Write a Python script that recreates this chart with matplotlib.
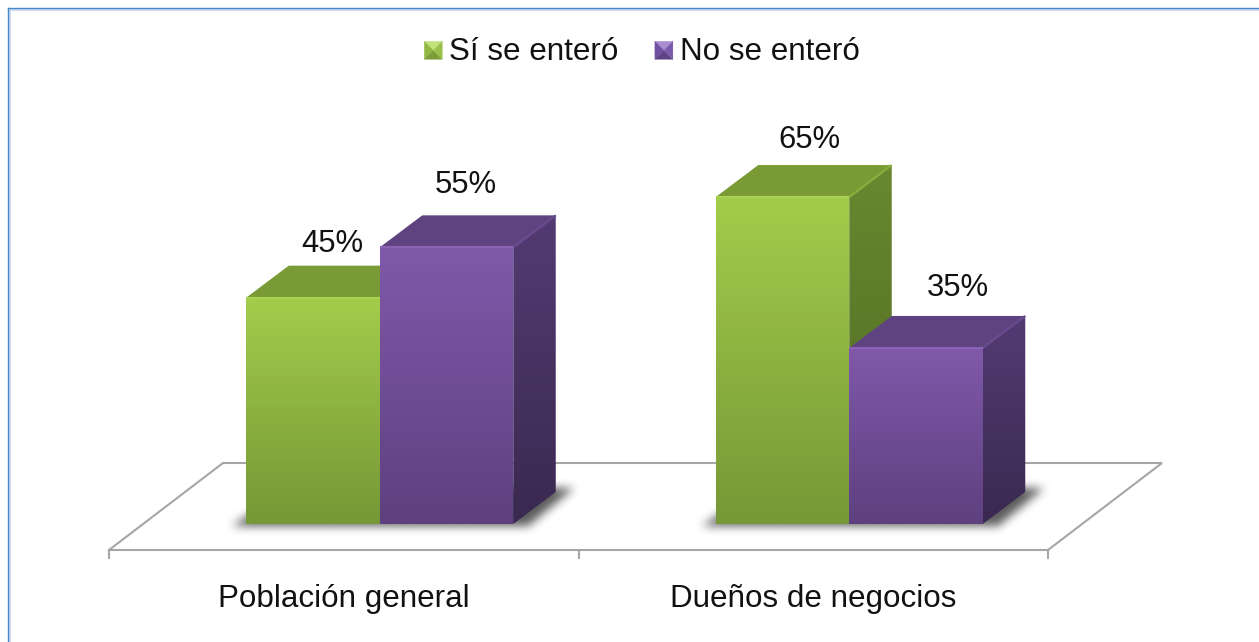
import numpy as np
import matplotlib
matplotlib.use("Agg")
import matplotlib.pyplot as plt
from matplotlib.patches import Polygon, Patch
from matplotlib.path import Path
from matplotlib.legend_handler import HandlerBase
from matplotlib.lines import Line2D
from matplotlib.colors import to_rgb

categories = ["Población general", "Dueños de negocios"]
series_names = ["Sí se enteró", "No se enteró"]
si_values = [45, 65]
no_values = [55, 35]

W, H = 1259, 642
plt.rcParams["font.family"] = ["Liberation Sans", "DejaVu Sans"]
FS = 22.6

# scales: pixels per unit, used only to configure the axes
PX_X = 469.5
PX_Y = 5.03
X0_PX = 109 + PX_X / 2       # category 0 centre
Y0_PX = 524                  # value 0

fig = plt.figure(figsize=(W / 100, H / 100), dpi=100, facecolor="white")
ax = fig.add_axes([0, 0, 1, 1])
ax.set_xlim(-X0_PX / PX_X, (W - X0_PX) / PX_X)
ax.set_ylim(-(H - Y0_PX) / PX_Y, Y0_PX / PX_Y)
ax.patch.set_visible(False)

BAR_W = 133.5 / PX_X
BAR_SHIFT = 36 / PX_X
DX = 42.5 / PX_X
DY = 32 / PX_Y

STYLE = {
    0: dict(front=("#A3CC4B", "#769836"), side=("#69882F", "#4E6923"), top="#7A9A35",
            edge="#88AE3C", rim="#AAD354", pyr=("#C3E27B", "#92B843", "#7B9D36", "#9AC04A")),
    1: dict(front=("#8059AA", "#5E407F"), side=("#533B73", "#3A2950"), top="#5F4380",
            edge="#6A4B90", rim="#8A63B4", pyr=("#A88DD2", "#7050A0", "#5E4387", "#7A5AAC")),
}


def grad_poly(pts, c_top, c_bot, z):
    pts = np.array(pts)
    xs, ys = pts[:, 0], pts[:, 1]
    t = np.linspace(0, 1, 128)[:, None]
    img = (1 - t) * np.array(to_rgb(c_top)) + t * np.array(to_rgb(c_bot))
    im = ax.imshow(img[:, None, :], extent=(xs.min(), xs.max(), ys.min(), ys.max()),
                   origin="upper", aspect="auto", zorder=z, interpolation="bilinear")
    clip = Polygon(pts, closed=True, transform=ax.transData)
    im.set_clip_path(clip)


def draw_bar(x, v, st, z):
    l, r = x, x + BAR_W
    grad_poly([(l, 0), (r, 0), (r, v), (l, v)], st["front"][0], st["front"][1], z + 0.2)
    grad_poly([(r, 0), (r + DX, DY), (r + DX, v + DY), (r, v)], st["side"][0], st["side"][1], z + 0.1)
    ax.add_patch(Polygon([(l, v), (r, v), (r + DX, v + DY), (l + DX, v + DY)], closed=True,
                         fc=st["top"], ec="none", zorder=z + 0.1))
    ax.plot([r, r + DX], [v, v + DY], color=st["edge"], lw=1.6, zorder=z + 0.15,
            solid_capstyle="butt")
    ax.plot([l, r], [v, v], color=st["rim"], lw=1.5, zorder=z + 0.25, solid_capstyle="butt")


def shadow(x_left):
    """Soft shadow of a bar pair on the floor."""
    xs = np.arange(x_left - 60 / PX_X, x_left + (2 * BAR_W) + 120 / PX_X, 1 / PX_X)
    ys = np.arange(-25 / PX_Y, DY + 30 / PX_Y, 1 / PX_Y)
    gx, gy = np.meshgrid(xs, ys)
    l = x_left - 14 / PX_X
    r = x_left + 2 * BAR_W + 16 / PX_X
    b = -2 / PX_Y
    t = 36 / PX_Y
    path = Path([(l, b), (r, b), (r + 46 / PX_X, t), (l + 60 / PX_X, t), (l, b)])
    m = path.contains_points(np.c_[gx.ravel(), gy.ravel()]).reshape(gx.shape).astype(float)
    k = np.ones(9) / 9
    for _ in range(3):
        m = np.apply_along_axis(lambda a: np.convolve(a, k, mode="same"), 0, m)
        m = np.apply_along_axis(lambda a: np.convolve(a, k, mode="same"), 1, m)
    rgba = np.zeros(m.shape + (4,))
    rgba[..., :3] = 0.2
    rgba[..., 3] = 0.8 * m
    ax.imshow(rgba, extent=(xs[0], xs[-1], ys[0], ys[-1]), origin="lower",
              aspect="auto", zorder=1.5, interpolation="bilinear")


# floor
FRONT = -26 / PX_Y
BACK = 61 / PX_Y
FDX = 114 / PX_X
floor_col = "#A6A6A6"
ax.plot([-0.5, -0.5 + FDX, 1.5 + FDX, 1.5], [FRONT, BACK, BACK, FRONT],
        color=floor_col, lw=1.5, zorder=1, solid_joinstyle="miter")

# real axis for the front floor edge and ticks
for s in ("left", "right", "top"):
    ax.spines[s].set_visible(False)
ax.spines["bottom"].set_position(("data", FRONT))
ax.spines["bottom"].set_bounds(-0.5, 1.5)
ax.spines["bottom"].set_color(floor_col)
ax.spines["bottom"].set_linewidth(1.5)
ax.set_yticks([])
ax.set_xticks([-0.5, 0.5, 1.5])
ax.set_xticklabels([])
ax.set_xticks([0, 1], minor=True)
ax.set_xticklabels(categories, minor=True, fontsize=FS, color="#111111")
ax.tick_params(axis="x", which="major", length=6.5, width=1.5, color=floor_col, direction="out")
ax.tick_params(axis="x", which="minor", length=0, pad=24.8)

# bars
for i in range(len(categories)):
    left = i - BAR_W + BAR_SHIFT
    shadow(left)
    draw_bar(left, si_values[i], STYLE[0], 2 + i)
    draw_bar(left + BAR_W, no_values[i], STYLE[1], 2.5 + i)

# value labels (pixel nudges from each bar's top-centre)
label_offsets = {(0, 0): (19, 54), (0, 1): (19, 62), (1, 0): (27, 57), (1, 1): (42, 60)}
for i in range(len(categories)):
    left = i - BAR_W + BAR_SHIFT
    for j, vals in enumerate((si_values, no_values)):
        ax.annotate(f"{vals[i]}%", xy=(left + j * BAR_W + BAR_W / 2, vals[i]),
                    xytext=label_offsets[(i, j)], textcoords="offset pixels",
                    ha="center", va="center", fontsize=FS - 0.3, color="#111111", zorder=10)


# legend with little pyramid keys
class PyramidHandler(HandlerBase):
    def create_artists(self, legend, orig, xd, yd, w, h, fontsize, trans):
        top, left, bot, right = STYLE[orig.series_index]["pyr"]
        s = 13.0
        x0 = xd * -1 + (w - s) / 2
        y0 = yd * -1 + (h - s) / 2 - 1
        cx, cy = x0 + s / 2, y0 + s / 2
        x1, y1 = x0 + s, y0 + s
        tris = [([(x0, y1), (x1, y1), (cx, cy)], top),
                ([(x0, y0), (x0, y1), (cx, cy)], left),
                ([(x0, y0), (x1, y0), (cx, cy)], bot),
                ([(x1, y0), (x1, y1), (cx, cy)], right)]
        return [Polygon(p, closed=True, fc=c, ec=c, lw=0.2, transform=trans) for p, c in tris]


handles = []
for j, name in enumerate(series_names):
    p = Patch(label=name)
    p.series_index = j
    handles.append(p)
leg = ax.legend(handles=handles, loc="center", bbox_to_anchor=(642 / W, 1 - 52 / H),
                ncols=2, frameon=False, fontsize=FS, handler_map={Patch: PyramidHandler()},
                handlelength=0.58, handleheight=0.6, handletextpad=0.22, columnspacing=1.15,
                labelcolor="#111111", borderpad=0, borderaxespad=0)
leg.set_zorder(10)

# chart border (top and left visible)
trans = fig.transFigure
for xs, ys, c, lw in [
    ([9.5 / W, 9.5 / W], [0, 1 - 9.5 / H], "#C5D9F0", 1.3),
    ([9.5 / W, 1], [1 - 9.5 / H, 1 - 9.5 / H], "#C5D9F0", 1.3),
    ([8.2 / W, 8.2 / W], [0, 1 - 8.2 / H], "#4A86C8", 1.0),
    ([8.2 / W, 1], [1 - 8.2 / H, 1 - 8.2 / H], "#4A86C8", 1.0),
]:
    fig.add_artist(Line2D(xs, ys, transform=trans, color=c, lw=lw))

fig.savefig("out.png", dpi=100, facecolor="white")
